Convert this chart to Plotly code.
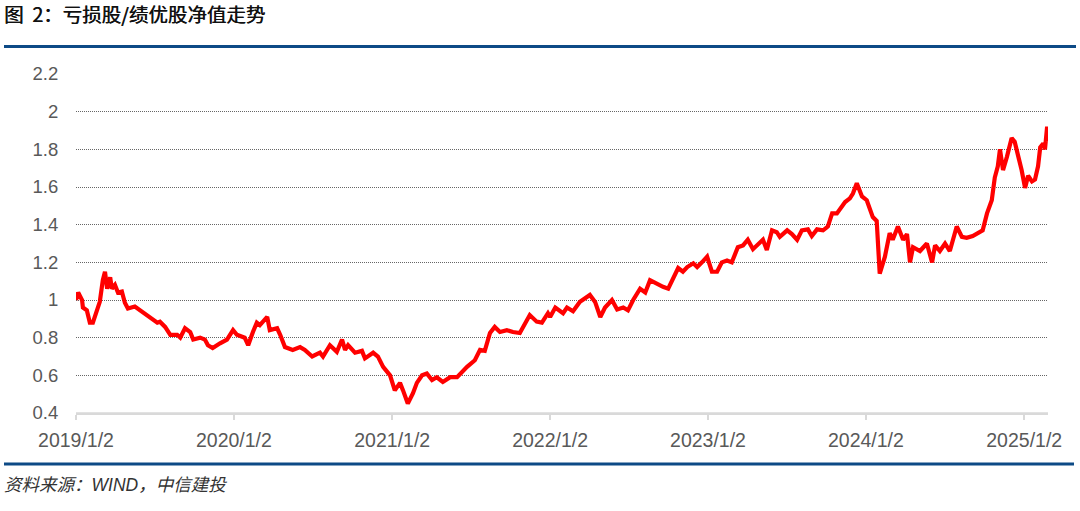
import plotly.graph_objects as go

# ---- data ----
dates = [
    "2019-01-02", "2019-01-07", "2019-01-16", "2019-01-18", "2019-01-27", "2019-02-03", "2019-02-10", "2019-02-19",
    "2019-02-26", "2019-03-05", "2019-03-10", "2019-03-15", "2019-03-22", "2019-03-26", "2019-04-02", "2019-04-09",
    "2019-04-18", "2019-04-25", "2019-05-02", "2019-05-18", "2019-05-30", "2019-06-11", "2019-06-23", "2019-07-09",
    "2019-07-15", "2019-07-27", "2019-08-08", "2019-08-24", "2019-08-31", "2019-09-11", "2019-09-23", "2019-09-30",
    "2019-10-16", "2019-10-27", "2019-11-03", "2019-11-14", "2019-12-01", "2019-12-17", "2019-12-31",
    "2020-01-09", "2020-01-27", "2020-02-04", "2020-02-15", "2020-02-24", "2020-03-02", "2020-03-19", "2020-03-25",
    "2020-04-11", "2020-04-18", "2020-04-29", "2020-05-17", "2020-06-03", "2020-06-14", "2020-07-01", "2020-07-19",
    "2020-07-26", "2020-08-11", "2020-08-27", "2020-09-08", "2020-09-15", "2020-09-22", "2020-10-08", "2020-10-24",
    "2020-10-31", "2020-11-19", "2020-11-30", "2020-12-12", "2020-12-28",
    "2021-01-08", "2021-01-20", "2021-01-27", "2021-02-07", "2021-02-19", "2021-02-28", "2021-03-12", "2021-03-23",
    "2021-04-04", "2021-04-15", "2021-04-29", "2021-05-16", "2021-06-01", "2021-06-12", "2021-06-24", "2021-07-12",
    "2021-07-24", "2021-08-04", "2021-08-16", "2021-08-27", "2021-09-08", "2021-09-24", "2021-10-08", "2021-10-24",
    "2021-11-05", "2021-11-16", "2021-12-02", "2021-12-14", "2021-12-28",
    "2022-01-02", "2022-01-14", "2022-02-01", "2022-02-10", "2022-02-24", "2022-03-12", "2022-03-24", "2022-04-04",
    "2022-04-16", "2022-04-28", "2022-05-09", "2022-05-25", "2022-06-06", "2022-06-20", "2022-07-01", "2022-07-13",
    "2022-07-29", "2022-08-10", "2022-08-21", "2022-09-02", "2022-09-20", "2022-10-02", "2022-10-11", "2022-10-25",
    "2022-11-05", "2022-11-15", "2022-11-29", "2022-12-08", "2022-12-19", "2022-12-31",
    "2023-01-11", "2023-01-23", "2023-02-03", "2023-02-15", "2023-02-26", "2023-03-12", "2023-03-24", "2023-04-04",
    "2023-04-16", "2023-05-02", "2023-05-09", "2023-05-18", "2023-05-30", "2023-06-10", "2023-06-17", "2023-07-04",
    "2023-07-15", "2023-07-27", "2023-08-07", "2023-08-21", "2023-08-30", "2023-09-11", "2023-09-25", "2023-10-06",
    "2023-10-16", "2023-10-27", "2023-11-03", "2023-11-15", "2023-11-26", "2023-12-03", "2023-12-12", "2023-12-24",
    "2024-01-04", "2024-01-11", "2024-01-18", "2024-01-27", "2024-02-03", "2024-02-15", "2024-02-26", "2024-03-04",
    "2024-03-16", "2024-03-28", "2024-04-06", "2024-04-13", "2024-04-20", "2024-05-06", "2024-05-22", "2024-06-03",
    "2024-06-10", "2024-06-21", "2024-07-03", "2024-07-14", "2024-07-30", "2024-08-11", "2024-08-22", "2024-09-05",
    "2024-09-21", "2024-09-28", "2024-10-08", "2024-10-19", "2024-10-26", "2024-11-02", "2024-11-07", "2024-11-14",
    "2024-11-23", "2024-11-30", "2024-12-04", "2024-12-11", "2024-12-18", "2024-12-27",
    "2025-01-04", "2025-01-11", "2025-01-20", "2025-01-27", "2025-02-03", "2025-02-08", "2025-02-15", "2025-02-19",
    "2025-02-24", "2025-02-26",
]
values = [
    1.00, 1.04, 1.00, 0.96, 0.945, 0.88, 0.88, 0.95,
    0.99, 1.105, 1.15, 1.06, 1.12, 1.06, 1.08, 1.04,
    1.045, 0.985, 0.955, 0.965, 0.945, 0.93, 0.905, 0.88,
    0.885, 0.857, 0.815, 0.815, 0.80, 0.85, 0.83, 0.79,
    0.80, 0.79, 0.76, 0.745, 0.77, 0.79, 0.84,
    0.815, 0.80, 0.76, 0.83, 0.88, 0.867, 0.91, 0.84, 0.85,
    0.815, 0.75, 0.735, 0.75, 0.735, 0.70, 0.72,
    0.70, 0.76, 0.725, 0.79, 0.735, 0.76, 0.72, 0.73,
    0.69, 0.72, 0.70, 0.645, 0.60,
    0.52, 0.56, 0.52, 0.45, 0.505, 0.56, 0.60, 0.61,
    0.575, 0.59, 0.565, 0.59, 0.59, 0.62, 0.645, 0.68,
    0.735, 0.73, 0.825, 0.857, 0.83, 0.84, 0.83, 0.825,
    0.88, 0.92, 0.885, 0.88, 0.93,
    0.91, 0.96, 0.93, 0.96, 0.94, 0.99, 1.01, 1.027,
    0.99, 0.91, 0.96, 1.00, 0.95, 0.96, 0.945, 1.00,
    1.06, 1.04, 1.105, 1.09, 1.07, 1.06, 1.10, 1.17,
    1.15, 1.175, 1.195, 1.175, 1.20, 1.23,
    1.15, 1.15, 1.20, 1.21, 1.20, 1.28, 1.29, 1.32,
    1.27, 1.31, 1.32, 1.265, 1.37, 1.36, 1.335, 1.37,
    1.35, 1.32, 1.37, 1.375, 1.34, 1.375, 1.37, 1.39,
    1.46, 1.46, 1.48, 1.52, 1.54, 1.565, 1.62, 1.55,
    1.53, 1.49, 1.44, 1.42, 1.14, 1.23, 1.355, 1.32,
    1.39, 1.32, 1.35, 1.20, 1.28, 1.26, 1.30, 1.20,
    1.29, 1.26, 1.30, 1.26, 1.39, 1.335, 1.33, 1.34,
    1.36, 1.37, 1.46, 1.53, 1.65, 1.71, 1.80, 1.69,
    1.76, 1.83, 1.86, 1.84, 1.78, 1.69,
    1.595, 1.66, 1.63, 1.64, 1.71, 1.81, 1.83, 1.80,
    1.92, 1.84,
]
tick_dates = ["2019-01-02", "2020-01-02", "2021-01-02", "2022-01-02",
              "2023-01-02", "2024-01-02", "2025-01-02"]
tick_labels = ["2019/1/2", "2020/1/2", "2021/1/2", "2022/1/2",
               "2023/1/2", "2024/1/2", "2025/1/2"]
y_ticks = [0.4, 0.6, 0.8, 1.0, 1.2, 1.4, 1.6, 1.8, 2.0, 2.2]
y_labels = ["0.4", "0.6", "0.8", "1", "1.2", "1.4", "1.6", "1.8", "2", "2.2"]
title_text = "图&nbsp;&nbsp;2：亏损股/绩优股净值走势"
source_text = "资料来源：WIND，中信建投"

# ---- figure ----
W, H = 1080, 511
L, R, T, B = 76, 32, 74, 98
pw, ph = W - L - R, H - T - B

def px(x):
    return (x - L) / pw

def py(y):
    return (H - B - y) / ph

fig = go.Figure()
fig.add_trace(go.Scatter(
    x=dates, y=values, mode="lines",
    line=dict(color="#ff0000", width=4.2),
    hoverinfo="skip", showlegend=False,
))

fig.update_layout(
    width=W, height=H,
    margin=dict(l=L, r=R, t=T, b=B, autoexpand=False),
    paper_bgcolor="white", plot_bgcolor="white",
    font=dict(family="Liberation Sans, Arial, sans-serif", color="#595959", size=18),
    xaxis=dict(
        type="date",
        range=["2019-01-02", "2025-02-26"],
        tickvals=tick_dates, ticktext=tick_labels,
        showgrid=False, zeroline=False,
        showline=True, linecolor="#d9d9d9", linewidth=1.5,
        ticks="outside", ticklen=5, tickcolor="#d9d9d9", tickwidth=1.5,
        ticklabelstandoff=4,
        tickfont=dict(size=19.5, color="#595959"),
    ),
    yaxis=dict(
        range=[0.4, 2.2],
        tickvals=y_ticks, ticktext=y_labels,
        showgrid=True, gridcolor="#666666", griddash="1px,1px", gridwidth=1,
        zeroline=False, showline=False,
        ticks="outside", ticklen=13, tickcolor="rgba(0,0,0,0)",
        tickfont=dict(size=18.5, color="#595959"),
    ),
)

# header / footer rules
rule_color = "#0d4a86"
fig.add_shape(type="line", xref="paper", yref="paper",
              x0=px(4), x1=px(1076), y0=py(46.5), y1=py(46.5),
              line=dict(color=rule_color, width=3))
fig.add_shape(type="line", xref="paper", yref="paper",
              x0=px(4), x1=px(1074), y0=py(464), y1=py(464),
              line=dict(color=rule_color, width=3))
# solid light axis line over the dotted gridline at 0.4
fig.add_shape(type="line", xref="paper", yref="paper",
              x0=0, x1=1, y0=0, y1=0,
              line=dict(color="#d9d9d9", width=1.5), layer="above")

fig.add_annotation(xref="paper", yref="paper", x=px(3), y=py(13.5),
                   xanchor="left", yanchor="middle", showarrow=False,
                   borderpad=0,
                   text=title_text,
                   font=dict(family="Noto Sans CJK SC, sans-serif", size=19.5, color="#111111",
                             shadow="0.45px 0px 0px #111111"))
fig.add_annotation(xref="paper", yref="paper", x=px(2), y=py(485),
                   xanchor="left", yanchor="middle", showarrow=False,
                   text="<i>" + source_text + "</i>",
                   font=dict(family="Liberation Sans, Noto Sans CJK SC, sans-serif", size=17.5, color="#333333"))

fig.write_html("out.html", config={"displayModeBar": False},
               post_script="document.body.style.margin='0';")
